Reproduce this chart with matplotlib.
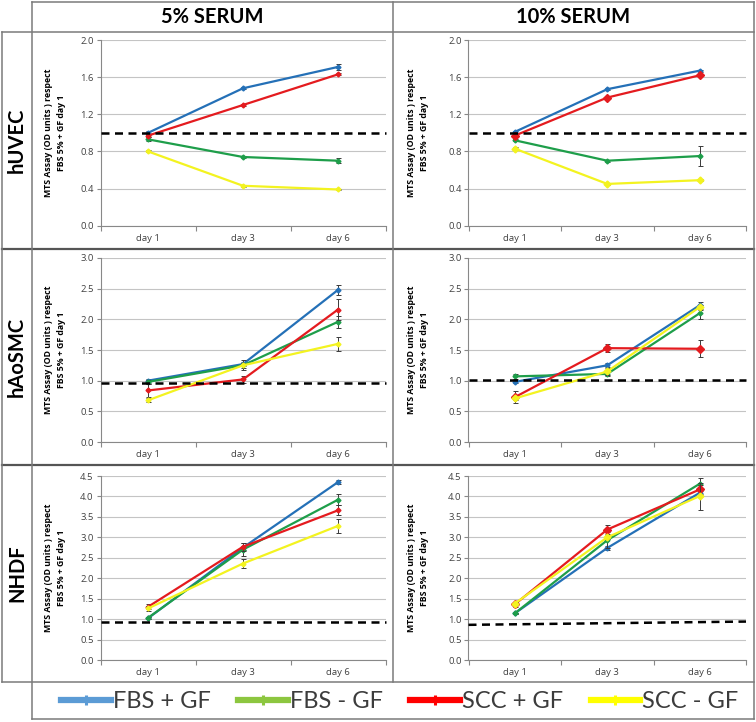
import matplotlib
matplotlib.use("Agg")
import matplotlib.pyplot as plt
from matplotlib.lines import Line2D
from matplotlib.ticker import FixedLocator

# ---------------- data ----------------
days = ["day 1", "day 3", "day 6"]
series = ["FBS + GF", "FBS - GF", "SCC + GF", "SCC - GF"]
columns = ["5% SERUM", "10% SERUM"]
rows = ["hUVEC", "hAoSMC", "NHDF"]

# values per panel, series order = FBS+GF, FBS-GF, SCC+GF, SCC-GF
huvec5_mean = [[1.00, 1.48, 1.71], [0.93, 0.74, 0.70], [0.97, 1.30, 1.63], [0.80, 0.43, 0.39]]
huvec5_err = [[0.02, 0.01, 0.03], [0.02, 0.01, 0.03], [0.02, 0.01, 0.01], [0.01, 0.01, 0.01]]
huvec10_mean = [[1.01, 1.47, 1.67], [0.92, 0.70, 0.75], [0.97, 1.38, 1.62], [0.83, 0.45, 0.49]]
huvec10_err = [[0.01, 0.01, 0.01], [0.01, 0.01, 0.11], [0.02, 0.01, 0.01], [0.02, 0.01, 0.01]]

haosmc5_mean = [[1.00, 1.27, 2.48], [0.98, 1.25, 1.96], [0.84, 1.02, 2.16], [0.68, 1.25, 1.60]]
haosmc5_err = [[0.03, 0.03, 0.08], [0.03, 0.04, 0.10], [0.10, 0.05, 0.17], [0.03, 0.08, 0.12]]
haosmc10_mean = [[0.98, 1.25, 2.23], [1.07, 1.11, 2.10], [0.73, 1.53, 1.52], [0.71, 1.15, 2.20]]
haosmc10_err = [[0.02, 0.03, 0.06], [0.04, 0.03, 0.10], [0.10, 0.07, 0.14], [0.03, 0.06, 0.04]]

nhdf5_mean = [[1.02, 2.75, 4.35], [1.03, 2.70, 3.92], [1.30, 2.77, 3.66], [1.26, 2.36, 3.28]]
nhdf5_err = [[0.02, 0.05, 0.04], [0.02, 0.15, 0.13], [0.06, 0.10, 0.12], [0.07, 0.10, 0.17]]
nhdf10_mean = [[1.14, 2.74, 4.09], [1.14, 2.93, 4.31], [1.36, 3.19, 4.17], [1.38, 3.00, 4.01]]
nhdf10_err = [[0.02, 0.05, 0.05], [0.02, 0.20, 0.15], [0.07, 0.10, 0.10], [0.04, 0.05, 0.33]]

# reference dashed lines (left end, right end)
huvec5_ref = [1.00, 1.00]
huvec10_ref = [1.00, 1.00]
haosmc5_ref = [0.97, 0.97]
haosmc10_ref = [1.01, 1.01]
nhdf5_ref = [0.93, 0.93]
nhdf10_ref = [0.86, 0.94]

y_max = [2.0, 3.0, 4.5]
y_step = [0.4, 0.5, 0.5]

# ---------------- styles ----------------
line_colors = ["#2470b7", "#1e9e4a", "#e41b1f", "#f3f320"]
legend_colors = ["#5b9bd5", "#8cc63f", "#ff0000", "#ffff00"]
W, H = 756, 722

fig = plt.figure(figsize=(W / 100, H / 100), dpi=100)
fig.patch.set_facecolor("white")


def fx(x):
    return x / W


def fy(y):
    return 1 - y / H


panel_means = [[huvec5_mean, huvec10_mean], [haosmc5_mean, haosmc10_mean], [nhdf5_mean, nhdf10_mean]]
panel_errs = [[huvec5_err, huvec10_err], [haosmc5_err, haosmc10_err], [nhdf5_err, nhdf10_err]]
panel_refs = [[huvec5_ref, huvec10_ref], [haosmc5_ref, haosmc10_ref], [nhdf5_ref, nhdf10_ref]]

col_x = [(100.5, 385.5), (468.5, 746.0)]
row_y = [(40.0, 225.7), (258.0, 442.0), (476.0, 660.0)]
ylab_x = [55, 418]

tick_font = dict(family="Open Sans", size=6.8)

for r in range(3):
    for c in range(2):
        x0, x1 = col_x[c]
        yt, yb = row_y[r]
        ax = fig.add_axes([fx(x0), fy(yb), fx(x1) - fx(x0), fy(yt) - fy(yb)])
        ax.set_xlim(-0.5, 2.5)
        ax.set_ylim(0, y_max[r])
        n = int(round(y_max[r] / y_step[r]))
        yticks = [i * y_step[r] for i in range(n + 1)]
        ax.set_yticks(yticks)
        ax.set_yticklabels([f"{v:.1f}" for v in yticks], fontdict=tick_font, color="#404040")
        ax.set_xticks(range(3))
        ax.set_xticklabels(days, fontdict=tick_font, color="#404040")
        ax.xaxis.set_minor_locator(FixedLocator([-0.5, 0.5, 1.5, 2.5]))
        ax.tick_params(axis="x", which="major", length=0, pad=6)
        ax.tick_params(axis="x", which="minor", length=3.5, color="#888888", width=0.8)
        ax.tick_params(axis="y", which="major", length=3, color="#888888", width=0.8, pad=2)
        for s in ["top", "right"]:
            ax.spines[s].set_visible(False)
        for s in ["left", "bottom"]:
            ax.spines[s].set_color("#888888")
            ax.spines[s].set_linewidth(0.8)
        ax.grid(axis="y", color="#c4c4c4", linewidth=0.8)
        ax.set_axisbelow(True)

        means = panel_means[r][c]
        errs = panel_errs[r][c]
        for k in range(4):
            ms = 2.5
            if c == 1 and k == 2:
                ms = 4.5
            elif c == 1 and k == 3:
                ms = 3.5
            ax.errorbar(range(3), means[k], yerr=errs[k], color=line_colors[k], lw=1.6,
                        marker="D", ms=ms, mec=line_colors[k], ecolor="#3a3a3a",
                        elinewidth=0.7, capsize=1.8, capthick=0.7, zorder=3 + k)
        ref = panel_refs[r][c]
        ax.plot([-0.5, 2.5], ref, color="black", lw=1.8, ls=(0, (3.2, 2.2)),
                zorder=10, clip_on=False)

        fig.text(fx(ylab_x[c]), fy((yt + yb) / 2),
                 "MTS Assay (OD units ) respect\nFBS 5% + GF day 1",
                 rotation=90, ha="center", va="center", fontsize=6.3,
                 family="Open Sans", fontweight="bold", linespacing=1.5, color="black")

# ---------------- table frame ----------------
light_kw = dict(color="#7a7a7a", lw=1.1, transform=fig.transFigure)
dark_kw = dict(color="#555555", lw=1.6, transform=fig.transFigure)
hlines = [(2, 32, 754, light_kw), (32, 2, 754, light_kw), (249, 2, 754, dark_kw),
          (465, 2, 754, dark_kw), (682, 2, 754, light_kw), (719, 32, 754, light_kw)]
vlines = [(2, 32, 682), (32, 2, 719), (393, 2, 682), (754, 2, 719)]
for y, xa, xb, kw in hlines:
    fig.add_artist(Line2D([fx(xa), fx(xb)], [fy(y), fy(y)], **kw))
for x, ya, yb in vlines:
    fig.add_artist(Line2D([fx(x), fx(x)], [fy(ya), fy(yb)], **light_kw))

# headers
for c, label in enumerate(columns):
    xm = (32 + 393) / 2 if c == 0 else (393 + 754) / 2
    fig.text(fx(xm), fy(17), label, ha="center", va="center", fontsize=14.5,
             family="Lato", fontweight="bold", color="black")

row_mid = [(32 + 249) / 2, (249 + 465) / 2, (465 + 682) / 2]
for r, label in enumerate(rows):
    fig.text(fx(17), fy(row_mid[r]), label, ha="center", va="center", rotation=90,
             fontsize=14.5, family="Lato", fontweight="bold", color="black")

# legend
handles = [Line2D([], [], color=legend_colors[k], lw=4.5, marker="|", ms=7, mew=2.2,
                  mec=legend_colors[k]) for k in range(4)]
leg = fig.legend(handles, series, loc="center", ncol=4,
                 bbox_to_anchor=(fx(400), fy(702)),
                 frameon=False, prop=dict(family="Lato", size=17),
                 handlelength=2.1, handletextpad=0.1, columnspacing=1.15,
                 borderaxespad=0, borderpad=0)
for t in leg.get_texts():
    t.set_color("#3c3c3c")

fig.savefig("out.png", dpi=100, facecolor="white")
